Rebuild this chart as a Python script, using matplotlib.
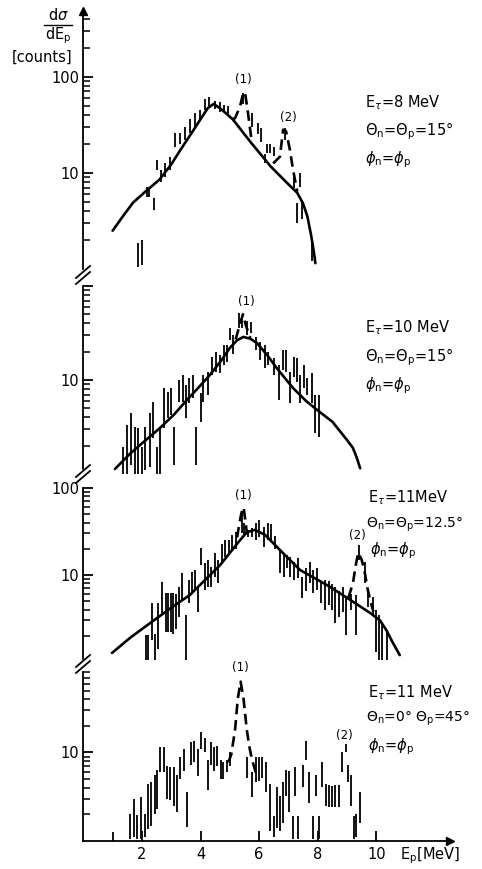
import numpy as np
import matplotlib
matplotlib.use("Agg")
import matplotlib.pyplot as plt
from matplotlib.lines import Line2D
from matplotlib.ticker import FixedLocator, FixedFormatter, LogLocator, NullFormatter

plt.rcParams['font.family'] = ['DejaVu Sans']
plt.rcParams['mathtext.fontset'] = 'dejavusans'

# ---------------- data ----------------
# Panel 1: E_tau = 8 MeV
p1_bar_x  = [1.86, 2.0, 2.16, 2.25, 2.41, 2.5, 2.64, 2.79, 2.96, 3.13, 3.3, 3.47, 3.64, 3.81,
             3.98, 4.15, 4.3, 4.5, 4.66, 4.8, 4.95, 5.45, 5.75, 5.95, 6.05, 6.2, 6.27, 6.38, 6.5,
             6.88, 7.2, 7.28, 7.4, 7.45, 7.8]
p1_bar_lo = [1.05, 1.1, 5.6, 5.6, 4.1, 10.7, 8.1, 9.1, 10.7, 18.7, 20, 22, 26, 30,
             36, 45, 49, 46, 43, 43, 40, 52, 30, 25, 21, 12.6, 16, 16, 15,
             22, 7.0, 3.0, 7.2, 3.3, 1.2]
p1_bar_hi = [1.86, 2.0, 7.2, 7.0, 5.5, 13.7, 10.7, 12.7, 14.7, 26, 26, 30, 36, 42,
             45, 58, 62, 56, 54, 51, 49, 68, 42, 33, 29, 15.5, 20, 20, 18.5,
             29, 10, 4.9, 10, 5.2, 2.0]
p1_fit_x = [1.0, 1.4, 1.7, 2.1, 2.6, 3.0, 3.3, 3.7, 4.0, 4.25, 4.45, 4.7, 5.1, 5.7, 6.4, 7.0,
            7.3, 7.5, 7.65, 7.78, 7.87, 7.92]
p1_fit_y = [2.5, 3.7, 4.9, 6.3, 8.5, 12.2, 17, 26, 36, 47, 52, 46, 36, 21, 11.6, 7.6,
            6.2, 4.8, 3.5, 2.2, 1.5, 1.15]
p1_pk1_x = [5.1, 5.18, 5.35, 5.46, 5.52, 5.62, 5.75]
p1_pk1_y = [36, 37, 49, 68, 68, 42, 21]
p1_pk2_x = [6.48, 6.71, 6.82, 6.92, 7.05, 7.16, 7.3]
p1_pk2_y = [12.5, 14.7, 28, 27, 17.4, 10.7, 6.4]

# Panel 2: E_tau = 10 MeV
p2_bar_x  = [1.34, 1.5, 1.63, 1.76, 1.88, 1.99, 2.1, 2.26, 2.37, 2.5, 2.62, 2.75, 2.9, 3.0, 3.1,
             3.25, 3.39, 3.5, 3.6, 3.75, 3.85, 4.0, 4.1, 4.26, 4.39, 4.53, 4.66, 4.8, 4.9, 5.0,
             5.12, 5.3, 5.4, 5.6, 5.73, 5.9, 6.03, 6.2, 6.3, 6.5, 6.67, 6.8, 6.92, 7.05, 7.19,
             7.3, 7.4, 7.54, 7.65, 7.8, 7.9, 8.05]
p2_bar_lo = [1.0, 1.0, 1.25, 1.0, 1.0, 1.0, 1.1, 1.2, 2.4, 1.0, 1.0, 3.1, 3.9, 4.2, 1.25,
             5.8, 5.8, 3.9, 5.7, 6.4, 1.25, 3.6, 5.8, 6.9, 11.3, 12.2, 11.9, 14.5, 15.5, 26.6,
             19, 36, 36, 30, 32, 20.8, 16.3, 13.4, 14.5, 11.3, 6.1, 12.8, 12.2, 5.7, 10.8,
             9.5, 5.7, 8.2, 6.9, 5.7, 2.7, 2.5]
p2_bar_hi = [1.94, 3.3, 4.45, 3.16, 3.1, 1.94, 3.16, 4.45, 5.8, 1.94, 3.16, 8.2, 7.4, 8.2, 3.16,
             10, 11.3, 8.8, 10.5, 11.3, 3.2, 7.3, 11.3, 12.2, 17.6, 19.9, 18.5, 23.6, 23.6, 35.8,
             30, 51, 48, 42, 41, 28.7, 25.4, 23.6, 19.9, 17.2, 14.5, 20.8, 20.8, 12.2, 17.6,
             17.2, 11.3, 14.5, 10.5, 11.9, 6.9, 6.9]
p2_fit_x = [1.08, 1.6, 2.1, 2.62, 3.1, 3.53, 3.9, 4.32, 4.7, 5.0, 5.25, 5.46, 5.7, 5.93, 6.3,
            6.6, 7.16, 7.6, 7.98, 8.5, 9.0, 9.2, 9.33, 9.45]
p2_fit_y = [1.13, 1.65, 2.25, 3.09, 4.3, 6.1, 8.1, 11.3, 16, 21.9, 26.5, 28.7, 27.5, 24.7, 18,
            13.4, 8.2, 6.0, 4.8, 3.6, 2.3, 1.9, 1.5, 1.15]
p2_pk1_x = [5.2, 5.35, 5.45, 5.55, 5.7]
p2_pk1_y = [27, 40, 50, 38, 28]

# Panel 3: E_tau = 11 MeV, 12.5 deg
p3_bar_x  = [2.13, 2.22, 2.34, 2.45, 2.56, 2.7, 2.82, 2.9, 2.98, 3.06, 3.15, 3.25, 3.37, 3.5,
             3.6, 3.7, 3.82, 3.92, 4.0, 4.15, 4.27, 4.37, 4.49, 4.6, 4.73, 4.85, 4.97, 5.08,
             5.2, 5.4, 5.5, 5.63, 5.76, 5.9, 6.0, 6.16, 6.3, 6.42, 6.55, 6.7, 6.85, 6.95,
             7.05, 7.19, 7.33, 7.48, 7.6, 7.73, 7.85, 7.96, 8.1, 8.26, 8.37, 8.5, 8.6, 8.73,
             8.86, 8.98, 9.15, 9.3, 9.42, 9.6, 9.72, 9.9, 10.0, 10.1, 10.2, 10.35]
p3_bar_lo = [1.05, 1.05, 1.79, 1.05, 1.4, 3.65, 2.2, 2.2, 2.2, 2.1, 2.4, 3.3, 5.2, 1.05,
             4.8, 6.2, 6.7, 3.75, 13.0, 6.7, 7.3, 7.3, 9.5, 8.1, 13.7, 16.1, 17, 19.4,
             20, 30, 28, 27, 27, 25, 27, 21, 25, 24, 20, 10.5, 9.5, 12,
             9.5, 8.8, 9.2, 5.4, 6.5, 8.1, 6.2, 6.7, 4.8, 4.0, 4.5, 4.0, 2.8, 3.3,
             3.8, 2.04, 4.0, 2.04, 15, 8, 4.3, 3.5, 1.3, 1.05, 1.05, 1.05]
p3_bar_hi = [2.04, 2.04, 4.76, 2.1, 4.8, 8.3, 6.2, 6.2, 6.2, 6.2, 6.0, 7.3, 10.5, 3.5,
             8.8, 10.8, 11.4, 7.3, 20.4, 13.7, 14.9, 12.3, 17.9, 14.9, 23, 25.3, 25, 29,
             31, 52, 40, 33, 35, 39.6, 43, 36, 40, 39, 28, 19.4, 17, 17,
             16, 14, 15.6, 9.5, 12, 14.1, 11.4, 12, 8.3, 8.8, 8.5, 7.8, 7.3, 6.5,
             7.3, 5.6, 6.0, 5.9, 22, 14, 6.7, 5.6, 4.0, 3.5, 2.8, 2.2]
p3_fit_x = [0.98, 1.6, 2.28, 3.0, 3.64, 4.3, 4.67, 5.0, 5.3, 5.58, 5.85, 6.2, 6.71, 7.4, 8.0,
            8.42, 9.1, 9.79, 10.13, 10.35, 10.55, 10.8]
p3_fit_y = [1.27, 1.9, 2.8, 4.2, 5.9, 9.8, 13.0, 17.9, 24, 31, 33, 29, 19.4, 11.4, 8.8,
            7.3, 5.2, 3.66, 3.0, 2.3, 1.7, 1.2]
p3_pk1_x = [5.25, 5.33, 5.4, 5.47, 5.52, 5.58]
p3_pk1_y = [27, 40, 52, 60, 45, 31]
p3_pk2_x = [9.05, 9.2, 9.3, 9.38, 9.5, 9.6, 9.7, 9.8, 9.9]
p3_pk2_y = [5.5, 8, 13, 18, 15, 11, 7, 5, 3.8]

# Panel 4: E_tau = 11 MeV, 0/45 deg
p4_bar_x  = [1.02, 1.6, 1.72, 1.83, 1.98, 2.1, 2.2, 2.32, 2.44, 2.53, 2.63, 2.74, 2.86, 2.97,
             3.09, 3.2, 3.31, 3.43, 3.55, 3.66, 3.78, 3.9, 4.0, 4.15, 4.26, 4.37, 4.46, 4.57,
             4.7, 4.78, 4.9, 5.0, 5.57, 5.77, 5.88, 5.99, 6.1, 6.24, 6.36, 6.5, 6.6, 6.7,
             6.81, 6.92, 7.02, 7.15, 7.22, 7.34, 7.5, 7.6, 7.7, 7.83, 7.94, 8.03, 8.15, 8.27,
             8.38, 8.49, 8.6, 8.72, 8.83, 8.95, 9.04, 9.15, 9.23, 9.32, 9.43]
p4_bar_lo = [1.0, 1.05, 1.1, 1.05, 1.05, 1.1, 1.37, 1.48, 2.0, 2.3, 6.0, 6.0, 3.0, 2.9,
             2.5, 2.1, 5.0, 6.1, 1.45, 7.3, 7.7, 5.4, 10.8, 10.0, 3.8, 7.3, 6.1, 7.0,
             5.0, 5.0, 6.0, 7.0, 5.2, 3.1, 4.6, 4.8, 5.2, 3.55, 1.3, 1.1, 1.4, 1.3,
             1.6, 3.2, 2.1, 1.05, 3.2, 1.05, 4.1, 8.3, 2.7, 1.05, 3.2, 1.05, 4.1, 2.5,
             2.4, 2.4, 2.4, 2.4, 6.0, 10, 4.6, 2.5, 1.05, 1.1, 1.6]
p4_bar_hi = [1.26, 2.0, 3.0, 1.97, 3.1, 2.0, 4.36, 4.6, 5.6, 6.4, 11.4, 11.4, 7.0, 6.8,
             6.8, 5.6, 9.0, 10.8, 3.55, 13.0, 13.3, 10.8, 16.8, 14.7, 8.3, 13.0, 11.4, 11.7,
             8.3, 7.9, 8.3, 10.0, 9.0, 6.0, 8.8, 9.0, 9.0, 7.9, 4.4, 1.9, 4.1, 3.2,
             4.6, 6.4, 6.1, 1.9, 6.8, 1.9, 7.3, 13.3, 6.0, 1.9, 5.6, 1.9, 7.9, 4.4,
             4.3, 4.2, 4.3, 4.3, 10.0, 12.5, 7.3, 5.5, 1.9, 2.0, 3.55]
p4_pk1_x = [4.95, 5.05, 5.18, 5.27, 5.37, 5.47, 5.58, 5.68, 5.76, 5.92]
p4_pk1_y = [7.7, 9.5, 18, 40, 63, 40, 18, 11, 8.3, 5.4]

x_ticks = [2, 4, 6, 8, 10]

# ---------------- layout ----------------
W, H = 482, 869
fig = plt.figure(figsize=(W / 100, H / 100), dpi=100)

def fx(x):
    return x / W

def fy(y):
    return 1 - y / H

X0, XPX = 83.3, 29.3
XMAX = 12.5
# (top px, bottom px, ymin, ymax, major tick labels)
specs = [
    (11, 269, 1, 480, ['10', '100']),
    (286, 474, 1, 100, ['10', '']),
    (488, 662, 1, 100, ['10', '100']),
    (672, 841, 1, 81, ['10', '']),
]
axes = []
for (top, bot, ymin, ymax, labs) in specs:
    ax = fig.add_axes([fx(X0), fy(bot), XMAX * XPX / W, (bot - top) / H])
    ax.set_yscale('log')
    ax.set_xlim(0, XMAX)
    ax.set_ylim(ymin, ymax)
    ax.patch.set_alpha(0)
    for s in ['top', 'right', 'bottom']:
        ax.spines[s].set_visible(False)
    ax.spines['left'].set_linewidth(1.3)
    ax.yaxis.set_major_locator(FixedLocator([10, 100]))
    ax.yaxis.set_major_formatter(FixedFormatter(labs))
    ax.yaxis.set_minor_locator(LogLocator(base=10, subs=np.arange(2, 10)))
    ax.yaxis.set_minor_formatter(NullFormatter())
    ax.tick_params(axis='y', which='major', direction='in', length=7, width=1.3,
                   labelsize=10.5, pad=3)
    ax.tick_params(axis='y', which='minor', direction='in', length=5, width=1.1)
    ax.set_xticks([])
    axes.append(ax)

ax4 = axes[3]
ax4.spines['bottom'].set_visible(True)
ax4.spines['bottom'].set_linewidth(1.3)
ax4.set_xticks(x_ticks)
ax4.set_xticklabels([str(t) for t in x_ticks])
ax4.tick_params(axis='x', direction='in', length=7, width=1.3, labelsize=10.5, pad=4)
ax4.plot(1, 0, '>k', ms=6, transform=ax4.transAxes, clip_on=False)
axes[0].plot(0, 1, '^k', ms=6, transform=axes[0].transAxes, clip_on=False)

bar_kw = dict(colors='black', linewidth=1.3)
fit_kw = dict(color='black', linewidth=1.9, solid_capstyle='round')
dash_kw = dict(color='black', linewidth=1.9, dashes=(4, 2.2))

a = axes[0]
a.vlines(p1_bar_x, p1_bar_lo, p1_bar_hi, **bar_kw)
a.plot(p1_fit_x, p1_fit_y, **fit_kw)
a.plot(p1_pk1_x, p1_pk1_y, **dash_kw)
a.plot(p1_pk2_x, p1_pk2_y, **dash_kw)

a = axes[1]
a.vlines(p2_bar_x, p2_bar_lo, p2_bar_hi, **bar_kw)
a.plot(p2_fit_x, p2_fit_y, **fit_kw)
a.plot(p2_pk1_x, p2_pk1_y, **dash_kw)

a = axes[2]
a.vlines(p3_bar_x, p3_bar_lo, p3_bar_hi, **bar_kw)
a.plot(p3_fit_x, p3_fit_y, **fit_kw)
a.plot(p3_pk1_x, p3_pk1_y, **dash_kw)
a.plot(p3_pk2_x, p3_pk2_y, **dash_kw)

a = axes[3]
a.vlines(p4_bar_x, p4_bar_lo, p4_bar_hi, **bar_kw)
a.plot(p4_pk1_x, p4_pk1_y, **dash_kw)

# axis breaks
for mid in [273, 472, 662]:
    fig.add_artist(Line2D([fx(X0), fx(X0)], [fy(mid - 1), fy(mid + 5)],
                          color='white', linewidth=2.5))
    for off in (0, 6):
        fig.add_artist(Line2D([fx(76), fx(90)], [fy(mid + 5 + off), fy(mid - 7 + off)],
                              color='black', linewidth=1.3))

# y axis label
fig.text(fx(58), fy(15), r'd$\sigma$', ha='center', va='center', fontsize=10.5)
fig.add_artist(Line2D([fx(44), fx(72)], [fy(25), fy(25)], color='black', linewidth=1.0))
fig.text(fx(58), fy(36), r'dE$_\mathrm{p}$', ha='center', va='center', fontsize=10.5)
fig.text(fx(42), fy(57), '[counts]', ha='center', va='center', fontsize=10.5)

# x axis label
fig.text(fx(400), fy(856), r'E$_\mathrm{p}$[MeV]', ha='left', va='center', fontsize=10.5)

# panel annotations
tk = dict(ha='left', va='center', fontsize=10.5)
fig.text(fx(365), fy(103), r'E$_\tau$=8 MeV', **tk)
fig.text(fx(365), fy(131), r'$\Theta_\mathrm{n}$=$\Theta_\mathrm{p}$=15°', **tk)
fig.text(fx(365), fy(160), r'$\phi_\mathrm{n}$=$\phi_\mathrm{p}$', **tk)

fig.text(fx(365), fy(328), r'E$_\tau$=10 MeV', **tk)
fig.text(fx(365), fy(357), r'$\Theta_\mathrm{n}$=$\Theta_\mathrm{p}$=15°', **tk)
fig.text(fx(365), fy(386), r'$\phi_\mathrm{n}$=$\phi_\mathrm{p}$', **tk)

fig.text(fx(368), fy(498), r'E$_\tau$=11MeV', **tk)
fig.text(fx(366), fy(525), r'$\Theta_\mathrm{n}$=$\Theta_\mathrm{p}$=12.5°', ha='left',
         va='center', fontsize=10)
fig.text(fx(370), fy(551), r'$\phi_\mathrm{n}$=$\phi_\mathrm{p}$', **tk)

fig.text(fx(368), fy(693), r'E$_\tau$=11 MeV', **tk)
fig.text(fx(366), fy(719), r'$\Theta_\mathrm{n}$=0° $\Theta_\mathrm{p}$=45°', ha='left',
         va='center', fontsize=10)
fig.text(fx(368), fy(747), r'$\phi_\mathrm{n}$=$\phi_\mathrm{p}$', **tk)

pk = dict(ha='center', va='center', fontsize=8.5)
fig.text(fx(243), fy(80), '(1)', **pk)
fig.text(fx(288), fy(117), '(2)', **pk)
fig.text(fx(246), fy(302), '(1)', **pk)
fig.text(fx(243), fy(495), '(1)', **pk)
fig.text(fx(357), fy(535), '(2)', **pk)
fig.text(fx(240), fy(667), '(1)', **pk)
fig.text(fx(344), fy(736), '(2)', **pk)

fig.savefig('out.png', dpi=100)
